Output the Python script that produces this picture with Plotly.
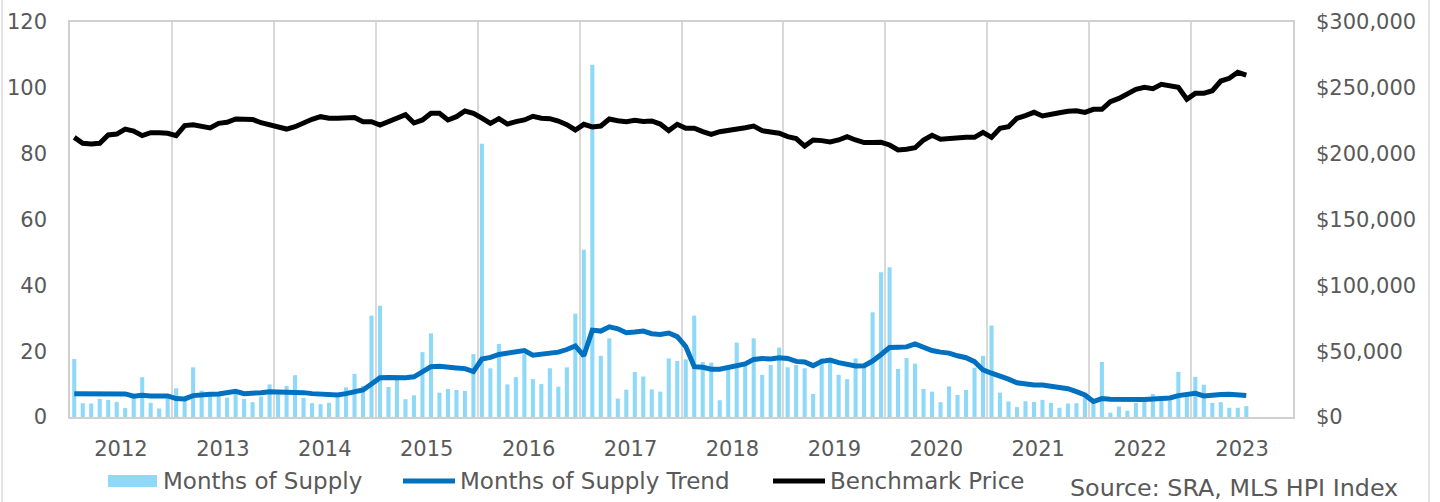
import plotly.graph_objects as go

# ---------------- data ----------------
year_labels = ["2012", "2013", "2014", "2015", "2016", "2017",
               "2018", "2019", "2020", "2021", "2022", "2023"]

months_of_supply = [
    17.6, 4.2, 4.1, 5.5, 5.2, 4.6, 2.7, 6.2, 12.1, 4.3, 2.6, 5.8,
    8.7, 5.2, 15.1, 8.0, 6.5, 6.5, 5.9, 8.0, 5.5, 4.5, 6.2, 9.9,
    7.0, 9.4, 12.7, 5.8, 4.2, 3.9, 4.3, 6.0, 9.0, 13.1, 9.4, 30.8,
    33.8, 9.1, 11.5, 5.4, 6.6, 19.7, 25.4, 7.4, 8.5, 8.2, 7.9, 19.1,
    83.0, 14.8, 22.2, 9.9, 12.1, 19.1, 11.5, 10.0, 14.8, 9.2, 15.1, 31.4,
    50.8, 107.0, 18.6, 23.9, 5.6, 8.3, 13.7, 12.3, 8.4, 7.7, 17.8, 17.0,
    17.5, 30.8, 16.7, 16.5, 5.1, 14.8, 22.6, 15.8, 23.9, 12.8, 15.8, 21.1,
    15.1, 15.8, 14.8, 7.0, 17.8, 17.8, 12.8, 11.5, 17.8, 16.1, 31.8, 44.0,
    45.5, 14.6, 17.9, 16.2, 8.5, 7.7, 4.5, 9.3, 6.7, 8.2, 15.0, 18.6,
    27.8, 7.4, 4.7, 3.0, 4.8, 4.6, 5.2, 4.3, 2.8, 4.1, 4.2, 6.0,
    5.0, 16.7, 1.3, 3.2, 1.9, 4.3, 4.7, 7.0, 5.2, 5.0, 13.7, 6.5,
    12.2, 9.8, 4.3, 4.5, 2.8, 2.8, 3.3,
]

supply_trend = [
    7.1, 7.1, 7.1, 7.2, 7.3, 7.2, 7.0, 6.3, 6.6, 6.4, 6.4, 6.4,
    5.6, 5.5, 6.5, 6.8, 6.9, 7.0, 7.3, 7.8, 7.1, 7.1, 7.4, 7.7,
    7.6, 7.6, 7.7, 7.4, 7.1, 6.9, 6.8, 6.7, 7.1, 7.7, 8.2, 10.0,
    11.9, 12.0, 11.9, 11.9, 12.2, 13.6, 15.3, 15.4, 15.3, 14.9, 14.7, 13.8,
    17.6, 18.1, 19.0, 19.5, 20.0, 20.2, 18.8, 19.1, 19.6, 19.7, 20.5, 21.6,
    18.6, 26.4, 26.1, 27.4, 26.8, 25.6, 25.8, 26.1, 25.3, 25.1, 25.5, 24.4,
    21.4, 15.3, 15.1, 14.5, 14.5, 15.1, 15.7, 16.1, 17.5, 17.8, 17.6, 18.0,
    17.8, 16.9, 16.7, 15.6, 16.9, 17.3, 16.5, 16.1, 15.5, 15.6, 17.0, 19.0,
    21.1, 21.2, 21.3, 22.2, 21.2, 20.2, 19.7, 19.4, 18.6, 18.0, 16.8, 14.3,
    13.3, 12.5, 11.5, 10.4, 10.0, 9.7, 9.7, 9.4, 9.0, 8.6, 7.7, 6.7,
    4.7, 5.6, 5.4, 5.3, 5.2, 5.2, 5.3, 5.5, 5.6, 5.8, 6.5, 6.7,
    7.2, 6.4, 6.7, 6.8, 6.9, 6.7, 6.5,
]

benchmark_price = [
    212400, 207900, 207300, 207900, 214200, 214900, 218700, 217200, 213700, 215900, 215900, 215500,
    213700, 221300, 222000, 220500, 219500, 223000, 223800, 226300, 226000, 226000, 223500, 222000,
    220500, 218700, 220500, 223500, 226100, 228100, 226900, 226900, 227300, 227500, 224300, 224300,
    221800, 224300, 227000, 229600, 223300, 225600, 230700, 230700, 225600, 228100, 232400, 230700,
    227000, 223000, 226600, 222500, 224300, 225600, 228400, 226900, 226600, 224800, 222000, 218000,
    222300, 220300, 221000, 226300, 225000, 224300, 225300, 224500, 224800, 222500, 217500, 222300,
    219300, 219300, 216700, 214700, 216700, 217500, 218700, 219700, 221000, 217500, 216500, 215500,
    212900, 211400, 205800, 210400, 209900, 208900, 210400, 212900, 210400, 208400, 208400, 208600,
    206600, 202800, 203300, 204500, 210400, 214000, 210900, 211700, 212400, 212400, 212400, 216200,
    212400, 219300, 220500, 226900, 228900, 231400, 228600, 229400, 231100, 232200, 232600, 231300,
    233700, 233700, 239500, 242000, 245800, 248900, 250400, 249400, 252700, 251400, 250400, 241300,
    245800, 245800, 247800, 255200, 257200, 261800, 259700,
]

series_names = ["Months of Supply", "Months of Supply Trend", "Benchmark Price"]
source_text = "Source: SRA, MLS HPI Index"

# ---------------- figure ----------------
W, H = 1440, 502
ML, MR, MT, MB = 70, 147, 22, 85
PW, PH = W - ML - MR, H - MT - MB

def px(p):
    return (p - ML) / PW

def py(p):
    return (H - MB - p) / PH

FONT = "DejaVu Sans"
TXT = "#595959"
BAR_C = "#8ED8F8"
TREND_C = "#0070C0"
PRICE_C = "#000000"
GRID_C = "#d9d9d9"
LEG_SIZE = 23
SRC_SIZE = 23.8

per_year = 12
x = list(range(len(months_of_supply)))
tick_pos = [per_year * i + 5.5 for i in range(len(year_labels))]
grid_pos = [per_year * i - 0.5 for i in range(1, len(year_labels))]

fig = go.Figure()
fig.add_bar(x=x, y=months_of_supply, width=0.48, marker=dict(color=BAR_C, line=dict(width=0)),
            name=series_names[0], yaxis="y")
fig.add_scatter(x=x, y=supply_trend, mode="lines", line=dict(color=TREND_C, width=5),
                name=series_names[1], yaxis="y")
fig.add_scatter(x=x, y=benchmark_price, mode="lines", line=dict(color=PRICE_C, width=5),
                name=series_names[2], yaxis="y2")

fig.update_layout(
    width=W, height=H,
    margin=dict(l=ML, r=MR, t=MT, b=MB, pad=0, autoexpand=False),
    paper_bgcolor="white", plot_bgcolor="white",
    font=dict(family=FONT, size=21, color=TXT),
    showlegend=False,
    xaxis=dict(
        range=[-0.5, per_year * len(year_labels) - 0.5],
        tickmode="array", tickvals=tick_pos, ticktext=year_labels,
        showgrid=False, zeroline=False, ticks="", automargin=False,
        showline=True, mirror=True, linecolor="#d0d0d0", linewidth=1.5,
        ticklabelstandoff=12,
        minor=dict(tickmode="array", tickvals=grid_pos, showgrid=True,
                   gridcolor=GRID_C, gridwidth=1.5, ticks=""),
    ),
    yaxis=dict(
        range=[0, 120], tickmode="linear", tick0=0, dtick=20,
        showgrid=False, zeroline=False, ticks="", automargin=False,
        showline=True, mirror=True, linecolor="#d0d0d0", linewidth=1.5,
        ticklabelstandoff=17,
    ),
    yaxis2=dict(
        range=[0, 300000], tickmode="linear", tick0=0, dtick=50000,
        tickprefix="$", tickformat=",d", overlaying="y", side="right",
        showgrid=False, zeroline=False, ticks="", showline=False, automargin=False,
        ticklabelstandoff=22,
    ),
)

# manual legend
ly = 481
shapes = [
    dict(type="rect", xref="paper", yref="paper",
         x0=px(108), x1=px(157), y0=py(487), y1=py(475),
         fillcolor=BAR_C, line=dict(width=0)),
    dict(type="line", xref="paper", yref="paper",
         x0=px(403), x1=px(455), y0=py(ly), y1=py(ly),
         line=dict(color=TREND_C, width=5)),
    dict(type="line", xref="paper", yref="paper",
         x0=px(773), x1=px(825), y0=py(ly), y1=py(ly),
         line=dict(color=PRICE_C, width=5)),
    # outer chart frame (left/right edges)
    dict(type="line", xref="paper", yref="paper",
         x0=px(2), x1=px(2), y0=py(0), y1=py(H),
         line=dict(color=GRID_C, width=1.5)),
    dict(type="line", xref="paper", yref="paper",
         x0=px(1429), x1=px(1429), y0=py(0), y1=py(H),
         line=dict(color=GRID_C, width=1.5)),
]
annotations = [
    dict(xref="paper", yref="paper", x=px(161), y=py(ly), text=series_names[0],
         showarrow=False, xanchor="left", yanchor="middle", font=dict(size=LEG_SIZE, color=TXT)),
    dict(xref="paper", yref="paper", x=px(458), y=py(ly), text=series_names[1],
         showarrow=False, xanchor="left", yanchor="middle", font=dict(size=LEG_SIZE, color=TXT)),
    dict(xref="paper", yref="paper", x=px(828), y=py(ly), text=series_names[2],
         showarrow=False, xanchor="left", yanchor="middle", font=dict(size=LEG_SIZE, color=TXT)),
    dict(xref="paper", yref="paper", x=px(1068), y=py(488), text=source_text,
         showarrow=False, xanchor="left", yanchor="middle", font=dict(size=SRC_SIZE, color=TXT)),
]
fig.update_layout(shapes=shapes, annotations=annotations)

fig.write_html("out.html", config={"displayModeBar": False},
               post_script="document.body.style.margin='0px';document.body.style.overflow='hidden';")
